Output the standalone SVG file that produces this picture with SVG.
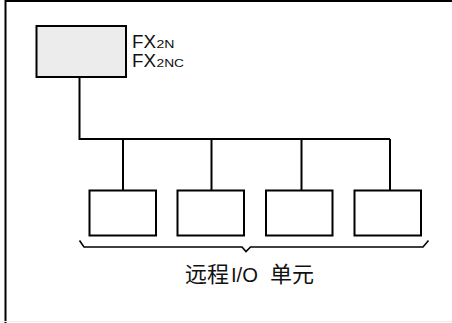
<svg xmlns="http://www.w3.org/2000/svg" width="452" height="323" viewBox="0 0 452 323">
  <style>
    .frame { fill: none; stroke: #000; stroke-width: 2; }
    .box { fill: #fff; stroke: #000; stroke-width: 2; }
    .plc { fill: #ececec; stroke: #000; stroke-width: 2; }
    .wire { fill: none; stroke: #000; stroke-width: 2; }
    .brace { fill: none; stroke: #000; stroke-width: 1.6; stroke-linejoin: miter; }
    .lbl { font-family: "Liberation Sans", Arial, sans-serif; fill: #111; }
    .cjk { font-family: "Noto Sans CJK SC", "Liberation Sans", sans-serif; fill: #111; font-size: 22px; }
  </style>
  <rect x="0" y="0" width="452" height="323" fill="#fff"/>
  <path class="frame" d="M5.5,330 V1 H460"/>
  <line x1="0" y1="321.5" x2="452" y2="321.5" stroke="#ececec" stroke-width="1"/>

  <g id="connectors">
    <path class="wire" d="M79.5,77 V139 H390"/>
    <path class="wire" d="M123,139 V190"/>
    <path class="wire" d="M211.5,139 V190"/>
    <path class="wire" d="M301.5,139 V190"/>
    <path class="wire" d="M390,139 V190"/>
  </g>

  <g id="plc">
    <rect class="plc" x="36.5" y="26" width="89.5" height="51"/>
    <text class="lbl" x="132" y="47.5" font-size="17.5" textLength="24" lengthAdjust="spacingAndGlyphs">FX</text>
    <text class="lbl" x="156.5" y="47.5" font-size="11" textLength="18" lengthAdjust="spacingAndGlyphs">2N</text>
    <text class="lbl" x="132" y="67" font-size="17.5" textLength="24" lengthAdjust="spacingAndGlyphs">FX</text>
    <text class="lbl" x="156.5" y="67" font-size="11" textLength="27.5" lengthAdjust="spacingAndGlyphs">2NC</text>
  </g>

  <g id="io1"><rect class="box" x="89.5" y="190.5" width="66.5" height="45"/></g>
  <g id="io2"><rect class="box" x="177.5" y="190.5" width="66.5" height="45"/></g>
  <g id="io3"><rect class="box" x="266" y="190.5" width="66.5" height="45"/></g>
  <g id="io4"><rect class="box" x="354.5" y="190.5" width="66.5" height="45"/></g>

  <g id="group-label">
    <path class="brace" d="M79.5,240.5 L84,247 H242 L246,251.5 L250.5,247 H423 L428.5,240.5"/>
    <text class="cjk" y="282"><tspan x="185">远程</tspan><tspan x="231" font-family="Liberation Sans, sans-serif" font-size="21" textLength="27" lengthAdjust="spacingAndGlyphs">I/O</tspan><tspan x="270">单元</tspan></text>
  </g>
</svg>
